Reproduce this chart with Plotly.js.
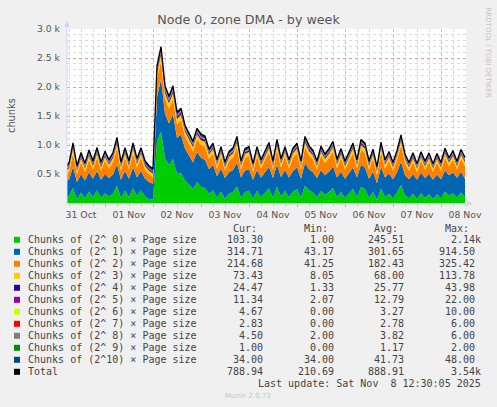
<!DOCTYPE html>
<html><head><meta charset="utf-8">
<script src="https://cdn.plot.ly/plotly-3.0.1.min.js"></script>
<style>html,body{margin:0;padding:0;background:#F0F0F0;}#chart{width:497px;height:407px;}</style>
</head><body><div id="chart"></div>
<script>
// ---- data ----
const startTime = Date.UTC(2025, 9, 31, 4, 0, 0);   // first sample: 31 Oct 04:00
const stepHours = 2;

const seriesNames = [
  'Chunks of (2^ 0) \u00d7 Page size','Chunks of (2^ 1) \u00d7 Page size','Chunks of (2^ 2) \u00d7 Page size',
  'Chunks of (2^ 3) \u00d7 Page size','Chunks of (2^ 4) \u00d7 Page size','Chunks of (2^ 5) \u00d7 Page size',
  'Chunks of (2^ 6) \u00d7 Page size','Chunks of (2^ 7) \u00d7 Page size','Chunks of (2^ 8) \u00d7 Page size',
  'Chunks of (2^ 9) \u00d7 Page size','Chunks of (2^10) \u00d7 Page size'];
const totalName = 'Total';
const seriesColors = ['#00CC00','#0066B3','#FF8000','#FFCC00','#330099','#990099','#CCFF00','#FF0000','#808080','#008F00','#00487D'];
const totalColor = '#000000';

const p0 = [90,120,260,60,180,80,200,100,220,90,
  170,110,160,300,80,210,100,260,120,220,110,70,
  60,1065,1230,780,650,760,500,520,380,320,240,360,
  280,260,160,220,90,200,70,160,190,290,90,190,
  210,70,210,100,180,250,90,280,110,210,100,200,
  240,90,300,220,180,100,210,140,190,260,100,190,
  90,160,240,100,280,240,90,190,50,250,100,160,
  80,180,310,140,80,160,70,170,90,150,70,150,
  80,200,130,170,90,180,104];
const p1 = [290,280,360,300,320,310,330,320,330,310,
  330,320,330,370,320,340,320,350,320,330,310,290,
  270,760,910,760,720,770,620,660,560,500,460,520,
  500,480,420,440,370,390,360,370,380,410,350,370,
  370,330,360,340,350,370,340,380,340,360,340,350,
  370,330,390,360,350,330,360,340,350,370,340,350,
  330,350,370,340,380,370,330,350,290,370,340,350,
  330,350,400,340,330,340,330,350,340,350,330,340,
  330,360,350,360,340,360,315];
const p2 = [98,133,238,138,208,146,216,152,233,154,
  228,162,220,276,154,236,152,250,170,236,152,136,
  120,320,310,260,256,267,242,250,210,204,189,220,
  222,233,184,200,132,216,124,198,216,264,132,216,
  224,136,234,152,218,250,142,258,160,234,152,236,
  250,152,274,242,218,142,244,210,236,258,162,236,
  152,218,250,152,258,250,152,226,148,260,152,218,
  144,218,282,210,144,208,136,208,142,208,136,208,
  144,224,150,216,142,226,215];
const p3 = [60,65,80,60,70,62,72,66,75,64,
  70,66,68,82,64,72,66,78,68,72,66,62,
  58,100,112,95,92,98,88,90,82,80,76,84,
  82,82,72,76,66,72,64,70,72,84,66,72,
  74,62,74,66,70,78,66,80,68,74,66,72,
  78,66,84,76,70,66,74,68,72,80,66,72,
  66,70,78,66,80,78,66,72,60,78,66,70,
  64,70,86,68,64,70,62,70,66,70,62,70,
  64,74,68,72,66,72,73];
const p4 = [24,25,28,23,26,24,27,25,28,24,
  26,25,26,30,24,27,25,29,25,27,25,23,
  22,38,44,40,38,40,36,36,33,31,29,32,
  31,30,27,28,25,27,24,26,27,30,25,27,
  27,23,27,25,26,28,24,29,25,27,25,26,
  28,24,30,27,26,24,27,25,26,28,25,26,
  24,26,28,25,29,28,24,26,22,28,25,26,
  24,26,30,25,24,26,23,26,24,25,23,25,
  24,27,25,26,24,26,24];
const p5 = [12,12,14,11,13,12,13,12,14,12,
  13,12,13,15,12,13,12,14,12,13,12,11,
  11,19,22,20,19,20,18,18,17,16,15,16,
  15,15,13,14,12,13,12,13,13,15,12,13,
  13,12,13,12,13,14,12,14,12,13,12,13,
  14,12,15,13,13,12,13,12,13,14,12,13,
  12,13,14,12,14,14,12,13,11,14,12,13,
  12,13,15,12,12,13,12,13,12,13,12,13,
  12,13,12,13,12,13,11];
const p6 = [3,3,4,3,3,3,4,3,4,3,
  3,3,3,4,3,3,3,4,3,3,3,3,
  2,6,8,7,6,6,5,5,5,4,4,4,
  4,4,3,3,3,3,3,3,3,4,3,3,
  3,3,3,3,3,3,3,4,3,3,3,3,
  3,3,4,3,3,3,3,3,3,4,3,3,
  3,3,3,3,4,3,3,3,2,3,3,3,
  3,3,4,3,3,3,3,3,3,3,3,3,
  3,3,3,3,3,4,5];
const p7 = [3,3,3,2,3,3,3,3,3,3,
  3,3,3,3,3,3,3,3,3,3,3,2,
  2,5,6,5,5,5,4,4,4,4,3,4,
  3,3,3,3,3,3,2,3,3,3,3,3,
  3,2,3,3,3,3,3,3,3,3,3,3,
  3,3,3,3,3,3,3,3,3,3,3,3,
  3,3,3,3,3,3,3,3,2,3,3,3,
  2,3,3,3,2,3,2,3,3,3,2,3,
  2,3,3,3,3,3,3];
const p8 = [4,4,4,3,4,4,4,4,4,4,
  4,4,4,4,4,4,4,4,4,4,4,3,
  3,5,6,6,5,5,5,5,4,4,4,4,
  4,4,4,4,3,4,3,4,4,4,3,4,
  4,3,4,4,4,4,4,4,4,4,4,4,
  4,3,4,4,4,3,4,4,4,4,4,4,
  3,4,4,4,4,4,3,4,3,4,4,4,
  3,4,4,4,3,4,3,4,4,4,3,4,
  3,4,4,4,4,4,4.5];
const p9 = [1,1,2,1,1,1,1,1,2,1,
  1,1,1,2,1,1,1,2,1,1,1,1,
  1,2,2,2,2,2,1,2,1,1,1,1,
  1,1,1,1,1,1,1,1,1,2,1,1,
  1,1,1,1,1,2,1,1,1,1,1,1,
  1,1,2,1,1,1,1,1,1,2,1,1,
  1,1,1,1,2,1,1,1,0,1,1,1,
  1,1,2,1,1,1,1,1,1,1,1,1,
  1,1,1,1,1,1,1];
const p10 = [42,42,43,42,42,42,43,42,43,42,
  43,43,43,44,43,43,43,44,43,43,43,42,
  42,46,48,48,47,47,46,46,45,45,44,44,
  44,44,43,43,42,42,42,42,42,43,42,42,
  42,41,42,41,41,42,41,42,41,41,41,41,
  41,41,42,41,41,40,41,40,40,41,40,40,
  40,40,41,40,41,41,40,40,38,40,39,39,
  38,38,39,38,37,38,37,37,37,37,36,36,
  36,36,35,35,35,34,34];

const curValues = ['103.30','314.71','214.68','73.43','24.47','11.34','4.67','2.83','4.50','1.00','34.00','788.94'];
const minValues = ['1.00','43.17','41.25','8.05','1.33','2.07','0.00','0.00','2.00','0.00','34.00','210.69'];
const avgValues = ['245.51','301.65','182.43','68.00','25.77','12.79','3.27','2.78','3.82','1.17','41.73','888.91'];
const maxValues = ['2.14k','914.50','325.42','113.78','43.98','22.00','10.00','6.00','6.00','2.00','48.00','3.54k'];
const columnHeaders = ['Cur:','Min:','Avg:','Max:'];
const yTickValues = [500,1000,1500,2000,2500,3000];
const yTickLabels = ['0.5 k','1.0 k','1.5 k','2.0 k','2.5 k','3.0 k'];
const titleText = 'Node 0, zone DMA - by week';
const yTitleText = 'chunks';
const lastUpdateText = 'Last update: Sat Nov\u00a0\u00a08 12:30:05 2025';
const footerText = 'Munin 2.0.73';
const sideText = 'RRDTOOL / TOBI OETIKER';
const xRange = ['2025-10-31 05:00:00','2025-11-08 12:30:00'];

const series = [p0,p1,p2,p3,p4,p5,p6,p7,p8,p9,p10];
series.forEach((s,k)=>{ if (s.length !== 101) throw new Error('series '+k+' has length '+s.length); });

// ---- build ----
const times = p0.map((_, i) => new Date(startTime + i*stepHours*3600000).toISOString().slice(0,19).replace('T',' '));
const totals = p0.map((_, i) => series.reduce((a, s) => a + s[i], 0));

const W = 497, H = 407, PL = 67, PR = 466, PT = 29, PB = 203;
const px = x => (x - PL) / (PR - PL);
const py = y => (PB - y) / (PB - PT);

const traces = series.map((s, k) => ({
  type: 'scatter', mode: 'lines', x: times, y: s, name: seriesNames[k],
  stackgroup: 'one', line: {width: 0, color: seriesColors[k]}, fillcolor: seriesColors[k],
  hoverinfo: 'skip'
}));
traces.push({type:'scatter', mode:'lines', x: times, y: totals, name: totalName,
  line:{color: totalColor, width: 1.3}, hoverinfo:'skip'});

const monoFont = {family:'DejaVu Sans Mono', size:10, color:'#444'};
const annotations = [];
const shapes = [];
const colRight = [271, 342, 412, 483];
const headRight = [259, 330, 400, 471];
const fmt = v => /k$/.test(v) ? v : v + '\u00a0';

columnHeaders.forEach((h, c) => annotations.push({xref:'paper', yref:'paper', x: px(headRight[c]), y: py(228),
  xanchor:'right', yanchor:'middle', text: h, showarrow:false, font: monoFont}));

const allNames = seriesNames.concat([totalName]);
const allColors = seriesColors.concat([totalColor]);
allNames.forEach((nm, r) => {
  const yc = 239.8 + 12 * r;
  shapes.push({type:'rect', xref:'paper', yref:'paper', x0: px(14), x1: px(20), y0: py(yc-3), y1: py(yc+3),
    fillcolor: allColors[r], line:{width:0}});
  annotations.push({xref:'paper', yref:'paper', x: px(25.5), y: py(yc), xanchor:'left', yanchor:'middle',
    text: nm.replace(/ /g,'\u00a0'), showarrow:false, font: monoFont});
  [curValues, minValues, avgValues, maxValues].forEach((arr, c) => {
    annotations.push({xref:'paper', yref:'paper', x: px(colRight[c]), y: py(yc), xanchor:'right', yanchor:'middle',
      text: fmt(arr[r]), showarrow:false, font: monoFont});
  });
});
annotations.push({xref:'paper', yref:'paper', x: px(483.5), y: py(383.5), xanchor:'right', yanchor:'middle',
  text: lastUpdateText, showarrow:false, font: monoFont});
annotations.push({xref:'paper', yref:'paper', x: px(247.5), y: py(396), xanchor:'center', yanchor:'middle',
  text: footerText, showarrow:false, font:{family:'DejaVu Sans', size:7, color:'#c4c4c4'}});
annotations.push({xref:'paper', yref:'paper', x: px(487.5), y: py(53), xanchor:'center', yanchor:'middle',
  text: sideText, textangle: 90, showarrow:false, font:{family:'DejaVu Sans', size:7, color:'#c4c4c4'}});
annotations.push({xref:'paper', yref:'paper', x: px(11), y: py(116), xanchor:'center', yanchor:'middle',
  text: yTitleText, textangle: -90, showarrow:false, font:{family:'DejaVu Sans', size:9.8, color:'#555'}});

// axis lines with arrows
const axisCol = '#CFD6F8';
shapes.push({type:'line', xref:'paper', yref:'paper', x0: px(67), x1: px(67), y0: py(204), y1: py(24), line:{color:axisCol, width:1}, layer:'above'});
shapes.push({type:'line', xref:'paper', yref:'paper', x0: px(66), x1: px(470), y0: py(203.5), y1: py(203.5), line:{color:axisCol, width:1}, layer:'above'});
shapes.push({type:'path', xref:'paper', yref:'paper', fillcolor: axisCol, line:{width:0},
  path: `M ${px(64)} ${py(27)} L ${px(70)} ${py(27)} L ${px(67)} ${py(21)} Z`});
shapes.push({type:'path', xref:'paper', yref:'paper', fillcolor: axisCol, line:{width:0},
  path: `M ${px(467)} ${py(200.5)} L ${px(467)} ${py(206.5)} L ${px(473)} ${py(203.5)} Z`});

const majorGrid = 'rgba(225,110,110,0.55)';
const minorGrid = 'rgba(150,150,150,0.35)';
const tickFont = {family:'DejaVu Sans', size:9.3, color:'#555'};

const layout = {
  width: W, height: H,
  margin: {l: PL, r: W - PR, t: PT, b: H - PB, pad: 0},
  paper_bgcolor: '#F0F0F0', plot_bgcolor: '#FFFFFF',
  showlegend: false,
  title: {text: titleText, x: 0.5, xref: 'container', xanchor: 'center', y: 1 - 19.5/H, yref:'container', yanchor:'middle',
    font: {family:'DejaVu Sans', size:12.7, color:'#555'}},
  xaxis: {type:'date', range: xRange, tickformat:'%d %b', ticklabelmode:'period',
    tick0:'2025-10-31', dtick: 86400000, showgrid:true, gridcolor: majorGrid, griddash:'dot', gridwidth:1,
    ticks:'outside', ticklen:3, tickcolor: majorGrid, tickfont: tickFont, zeroline:false, showline:false,
    minor: {tick0:'2025-10-31', dtick: 21600000, showgrid:true, gridcolor: minorGrid, griddash:'dot', ticks:'outside', ticklen:2, tickcolor:'#bbb'},
    fixedrange:true},
  yaxis: {range:[0, 3000], tickmode:'array', tickvals: yTickValues, ticktext: yTickLabels,
    showgrid:true, gridcolor: majorGrid, griddash:'dot', gridwidth:1, ticks:'', ticklabelstandoff: 6,
    tickfont: tickFont, zeroline:false, showline:false,
    minor: {tickmode:'linear', tick0:0, dtick:100, showgrid:true, gridcolor: minorGrid, griddash:'dot'},
    fixedrange:true},
  annotations: annotations,
  shapes: shapes
};

Plotly.newPlot('chart', traces, layout, {staticPlot:true, displayModeBar:false});
</script>
</body></html>
